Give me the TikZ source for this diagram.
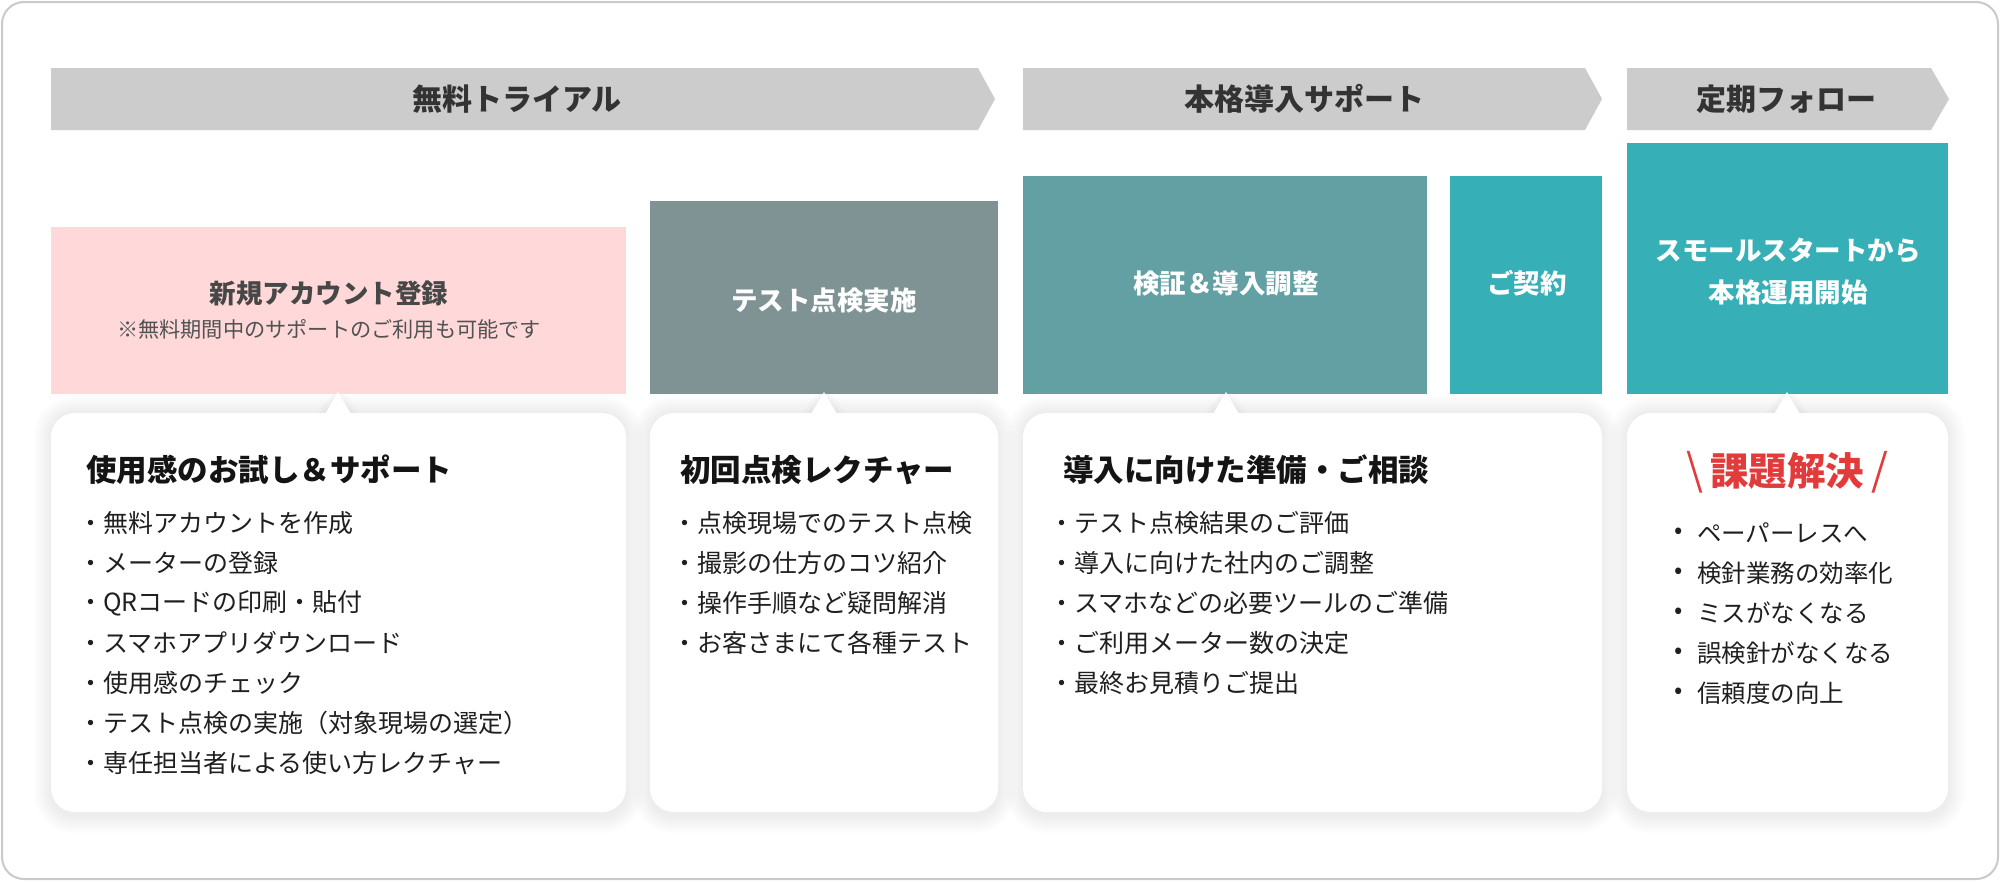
\documentclass[tikz,border=0pt]{standalone}
\usepackage{fontspec}
\setmainfont{Noto Sans CJK JP}
\definecolor{bannergray}{HTML}{CCCCCC}
\definecolor{framegray}{HTML}{CACACA}
\definecolor{pinkbox}{HTML}{FFD9D9}
\definecolor{slatebox}{HTML}{7F9394}
\definecolor{tealbox}{HTML}{62A0A3}
\definecolor{cyanbox}{HTML}{36B0B6}
\definecolor{redtitle}{HTML}{E23B3B}
\definecolor{darktext}{HTML}{333333}
\newcommand\fsz[1]{\fontsize{#1}{#1}\selectfont}
\newcommand\cardshadow[3]{%
  \foreach \k in {1,...,18}{%
    \pgfmathsetmacro\rr{24+\k}%
    \fill[black, opacity=0.0045, rounded corners=\rr pt] ({#1-\k},{413-\k}) rectangle ({#2+\k},{816+\k});%
  }%
  \foreach \k in {1,...,10}{%
    \fill[black, opacity=0.0045] ({#3-13-\k},414) -- (#3,{392-\k}) -- ({#3+13+\k},414) -- cycle;%
  }}
\newcommand\cardbody[3]{%
  \fill[white, rounded corners=24pt] (#1,413) rectangle (#2,812);%
  \fill[white] ({#3-13},414) -- (#3,392) -- ({#3+13},414) -- cycle;}
\begin{document}
\begin{tikzpicture}[x=1pt,y=-1pt,
  bannertext/.style={inner sep=0, text=darktext, font=\bfseries\fsz{30}},
  boxtext/.style={inner sep=0, text=white, font=\bfseries\fsz{26.5}},
  cardtitle/.style={anchor=west, inner sep=0, text=black!92, font=\bfseries\fsz{30.5}},
  item/.style={anchor=west, inner sep=0, text=black!88, font=\fsz{25}},
  item4/.style={anchor=west, inner sep=0, text=black!88, font=\fsz{24.5}}]
\useasboundingbox (0,0) rectangle (2000,881);
\fill[white] (0,0) rectangle (2000,881);
\draw[framegray, line width=2pt, rounded corners=22pt] (2,2) rectangle (1998,879);

% shadows
\cardshadow{51}{626}{338}
\cardshadow{650}{998}{824}
\cardshadow{1023}{1602}{1226}
\cardshadow{1627}{1948}{1787}

% banners
\fill[bannergray] (51,68) -- (978,68) -- (995,99) -- (978,130) -- (51,130) -- cycle;
\node[bannertext] (t1) at (517,99) {無料トライアル};
\fill[bannergray] (1023,68) -- (1585,68) -- (1602,99) -- (1585,130) -- (1023,130) -- cycle;
\node[bannertext] (t2) at (1304,99) {本格導入サポート};
\fill[bannergray] (1627,68) -- (1931,68) -- (1949,99) -- (1931,130) -- (1627,130) -- cycle;
\node[bannertext] (t3) at (1786,99) {定期フォロー};

% step boxes
\fill[pinkbox] (51,227) rectangle (626,394);
\node[boxtext, text=black!72] (p1) at (329,293) {新規アカウント登録};
\node[inner sep=0, text=black!68, font=\fsz{21.2}] (p2) at (329,329) {※無料期間中のサポートのご利用も可能です};
\fill[slatebox] (650,201) rectangle (998,394);
\node[boxtext] (p3) at (824,300) {テスト点検実施};
\fill[tealbox] (1023,176) rectangle (1427,394);
\node[boxtext] (p4) at (1226,283) {検証＆導入調整};
\fill[cyanbox] (1450,176) rectangle (1602,394);
\node[boxtext] (p5) at (1527,283) {ご契約};
\fill[cyanbox] (1627,143) rectangle (1948,394);
\node[boxtext] (p6) at (1788,251) {スモールスタートから};
\node[boxtext] (p7) at (1788,292) {本格運用開始};

% cards
\cardbody{51}{626}{338}
\cardbody{650}{998}{824}
\cardbody{1023}{1602}{1226}
\cardbody{1627}{1948}{1787}

% card 1
\node[cardtitle] (h1) at (86,470) {使用感のお試し＆サポート};
\foreach \t [count=\i] in {無料アカウントを作成, メーターの登録, QRコードの印刷・貼付, スマホアプリダウンロード, 使用感のチェック, テスト点検の実施（対象現場の選定）, 専任担当者による使い方レクチャー}
  \node[item] (a\i) at (78, {483+40*\i}) {・\t};

% card 2
\node[cardtitle] (h2) at (680,470) {初回点検レクチャー};
\foreach \t [count=\i] in {点検現場でのテスト点検, 撮影の仕方のコツ紹介, 操作手順など疑問解消, お客さまにて各種テスト}
  \node[item] (b\i) at (672, {483+40*\i}) {・\t};

% card 3
\node[cardtitle] (h3) at (1063,470) {導入に向けた準備・ご相談};
\foreach \t [count=\i] in {テスト点検結果のご評価, 導入に向けた社内のご調整, スマホなどの必要ツールのご準備, ご利用メーター数の決定, 最終お見積りご提出}
  \node[item] (c\i) at (1049, {483+40*\i}) {・\t};

% card 4
\node[inner sep=0, text=redtitle] (h4) at (1787,472) {{\fsz{43}\textbackslash}\hspace{7pt}{\bfseries\fsz{38.5}課題解決}\hspace{7pt}{\fsz{43}/}};
\foreach \t [count=\i] in {ペーパーレスへ, 検針業務の効率化, ミスがなくなる, 誤検針がなくなる, 信頼度の向上}{
  \node[item4, anchor=center] (d\i) at (1679, {493+40*\i}) {•};
  \node[item4] (e\i) at (1697, {493+40*\i}) {\t};
}
\end{tikzpicture}
\end{document}
